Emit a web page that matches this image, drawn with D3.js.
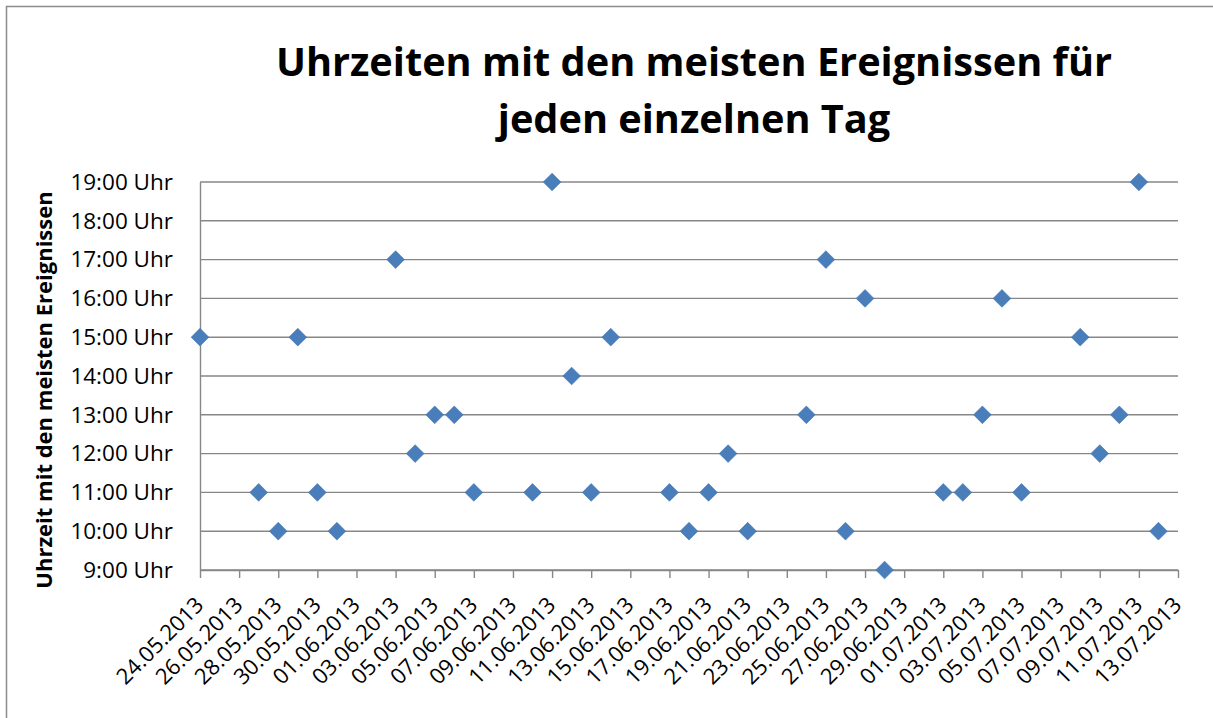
<!DOCTYPE html>
<html>
<head>
<meta charset="utf-8">
<script src="https://cdn.jsdelivr.net/npm/d3@7"></script>
<style>
  body { margin: 0; background: #fff; }
  svg { display: block; }
</style>
</head>
<body>
<div id="viz"></div>
<script>
const width = 1213;
const height = 718;
const margin = {top: 182, right: 35, bottom: 148, left: 200};
const markerColor = '#4a7ebb';
const gridColor = '#878787';
const fontFamily = '"Open Sans", "Noto Sans", sans-serif';

// data: day -> hour with the most events
const days = [
  '24.05.2013', '27.05.2013', '28.05.2013', '29.05.2013', '30.05.2013', '31.05.2013',
  '03.06.2013', '04.06.2013', '05.06.2013', '06.06.2013', '07.06.2013', '10.06.2013',
  '11.06.2013', '12.06.2013', '13.06.2013', '14.06.2013', '17.06.2013', '18.06.2013',
  '19.06.2013', '20.06.2013', '21.06.2013', '24.06.2013', '25.06.2013', '26.06.2013',
  '27.06.2013', '28.06.2013', '01.07.2013', '02.07.2013', '03.07.2013', '04.07.2013',
  '05.07.2013', '08.07.2013', '09.07.2013', '10.07.2013', '11.07.2013', '12.07.2013'
];
const hours = [
  15, 11, 10, 15, 11, 10,
  17, 12, 13, 13, 11, 11,
  19, 14, 11, 15, 11, 10,
  11, 12, 10, 13, 17, 10,
  16, 9, 11, 11, 13, 16,
  11, 15, 12, 13, 19, 10
];
const xStart = '24.05.2013';
const xEnd = '13.07.2013';
const hourTicks = [9, 10, 11, 12, 13, 14, 15, 16, 17, 18, 19];

const title = ['Uhrzeiten mit den meisten Ereignissen für', 'jeden einzelnen Tag'];
const yTitle = 'Uhrzeit mit den meisten Ereignissen';

const parseDay = d3.utcParse('%d.%m.%Y');
const fmtDay = d3.utcFormat('%d.%m.%Y');

const data = days.map((d, i) => ({date: parseDay(d), hour: hours[i]}));

const svg = d3.select('#viz')
  .append('svg')
    .attr('width', width)
    .attr('height', height)
    .attr('viewBox', [0, 0, width, height]);

// outer chart border (only top and left edges are inside the picture)
svg.append('rect')
  .attr('x', 6.5)
  .attr('y', 6.5)
  .attr('width', width + 20)
  .attr('height', height + 20)
  .attr('fill', 'none')
  .attr('stroke', '#8c8c8c')
  .attr('stroke-width', 1.5);

const xScale = d3.scaleUtc()
  .domain([parseDay(xStart), parseDay(xEnd)])
  .range([margin.left, width - margin.right]);

const yScale = d3.scaleLinear()
  .domain([9, 19])
  .range([height - margin.bottom, margin.top]);

// gridlines
svg.append('g')
  .selectAll('line')
  .data(hourTicks)
  .join('line')
    .attr('x1', margin.left)
    .attr('x2', width - margin.right)
    .attr('y1', d => yScale(d))
    .attr('y2', d => yScale(d))
    .attr('stroke', gridColor)
    .attr('stroke-width', 1.4);

// y axis
const yAxis = svg.append('g')
  .attr('transform', `translate(${margin.left}, 0)`)
  .call(d3.axisLeft(yScale).tickValues(hourTicks).tickSize(0).tickPadding(27)
    .tickFormat(d => `${d}:00 Uhr`));
yAxis.select('.domain').attr('stroke', gridColor).attr('stroke-width', 1.4);
yAxis.selectAll('text')
  .attr('font-family', fontFamily)
  .attr('font-size', 22.5)
  .attr('fill', '#000');

// x axis
const xTicks = d3.utcDay.range(parseDay(xStart), d3.utcDay.offset(parseDay(xEnd), 1), 2);
const xAxis = svg.append('g')
  .attr('transform', `translate(0, ${height - margin.bottom})`)
  .call(d3.axisBottom(xScale).tickValues(xTicks).tickSize(8).tickSizeOuter(0)
    .tickFormat(fmtDay));
xAxis.select('.domain').attr('stroke', gridColor).attr('stroke-width', 1.4);
xAxis.selectAll('.tick line').attr('stroke', gridColor).attr('stroke-width', 1.4);
xAxis.selectAll('text')
  .attr('font-family', fontFamily)
  .attr('font-size', 22)
  .attr('fill', '#000')
  .attr('text-anchor', 'end')
  .attr('dy', '0.35em')
  .attr('transform', 'translate(-1, 31) rotate(-45)')
  .attr('y', 0);

// markers
svg.append('g')
  .selectAll('path')
  .data(data)
  .join('path')
    .attr('d', d3.symbol().type(d3.symbolDiamond2).size(200))
    .attr('transform', d => `translate(${xScale(d.date)}, ${yScale(d.hour)})`)
    .attr('fill', markerColor)
    .attr('stroke', '#3f73b0')
    .attr('stroke-width', 0.6);

// title
svg.append('g')
  .selectAll('text')
  .data(title)
  .join('text')
    .attr('x', 694)
    .attr('y', (d, i) => 76 + i * 57)
    .attr('text-anchor', 'middle')
    .attr('font-family', fontFamily)
    .attr('font-weight', 'bold')
    .attr('font-size', 39.7)
    .attr('fill', '#000')
    .text(d => d);

// y axis title
svg.append('text')
  .attr('transform', `translate(52, 390) rotate(-90)`)
  .attr('text-anchor', 'middle')
  .attr('font-family', fontFamily)
  .attr('font-weight', 'bold')
  .attr('font-size', 22)
  .attr('fill', '#000')
  .text(yTitle);
</script>
</body>
</html>
